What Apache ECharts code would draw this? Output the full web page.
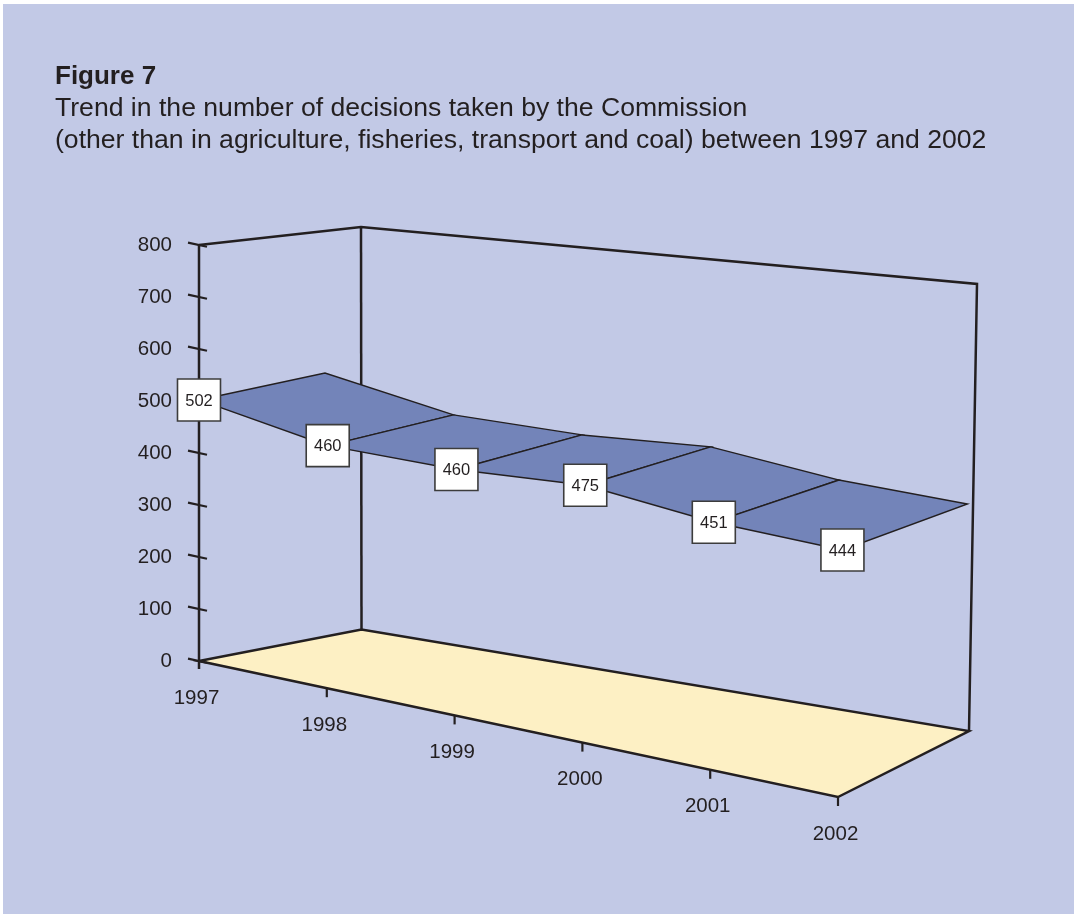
<!DOCTYPE html>
<html>
<head>
<meta charset="utf-8">
<title>Figure 7</title>
<script src="https://cdn.jsdelivr.net/npm/echarts/dist/echarts.min.js"></script>
<style>
  html, body { margin: 0; padding: 0; background: #ffffff; }
  #chart { width: 1077px; height: 917px; }
</style>
</head>
<body>
<div id="chart"></div>
<script>
// Decisions taken by the Commission per year
const years = ['1997', '1998', '1999', '2000', '2001', '2002'];
const decisions = [502, 460, 460, 475, 451, 444];
// Value axis range and step
const yMin = 0;
const yMax = 800;
const yStep = 100;

const FONT = '"Liberation Sans", Arial, Helvetica, sans-serif';
const INK = '#231f20';
const PANEL = '#c2c9e6';
const RIBBON = '#7384b9';
const FLOOR = '#fdf0c4';

// Screen corners of the 3-D box (front-left edge comes from the grid itself)
const FRONT_BOTTOM_RIGHT = [838, 797];
const FRONT_TOP_RIGHT = [846, 352];
const BACK_BOTTOM_LEFT = [361.5, 629.5];
const BACK_TOP_LEFT = [361, 227];
const BACK_BOTTOM_RIGHT = [969, 731];
const BACK_TOP_RIGHT = [977, 284];
// Offset of the ribbon's back edge at the first and last category
const RIBBON_DEPTH_START = [126, -27];
const RIBBON_DEPTH_END = [125, -46];

const last = years.length - 1;

function lerp(a, b, t) { return [a[0] + (b[0] - a[0]) * t, a[1] + (b[1] - a[1]) * t]; }

// Maps a (category, value) point of the flat grid plus a depth w (0 front, 1 back)
// into the perspective box.
function makeProjector(api) {
  const o = api.coord([0, yMin]);
  const r = api.coord([last, yMin]);
  const t = api.coord([0, yMax]);
  const FBL = [o[0], o[1]];
  const FTL = [o[0], t[1]];
  return function (cat, val, w) {
    const p = api.coord([cat, val]);
    const u = (p[0] - o[0]) / (r[0] - o[0]);
    const v = (o[1] - p[1]) / (o[1] - t[1]);
    const fb = lerp(FBL, FRONT_BOTTOM_RIGHT, u);
    const ft = lerp(FTL, FRONT_TOP_RIGHT, u);
    const bb = lerp(BACK_BOTTOM_LEFT, BACK_BOTTOM_RIGHT, u);
    const bt = lerp(BACK_TOP_LEFT, BACK_TOP_RIGHT, u);
    const f = lerp(fb, ft, v);
    const b = lerp(bb, bt, v);
    const out = lerp(f, b, w);
    out.u = u;
    return out;
  };
}

function ribbonBack(p) {
  const d = lerp(RIBBON_DEPTH_START, RIBBON_DEPTH_END, p.u);
  return [p[0] + d[0], p[1] + d[1]];
}

function line(a, b, width) {
  return {
    type: 'line',
    shape: { x1: a[0], y1: a[1], x2: b[0], y2: b[1] },
    style: { stroke: INK, lineWidth: width, lineCap: 'butt' }
  };
}

// Walls, floor, axis ticks and category labels
function renderFrame(params, api) {
  const P = makeProjector(api);
  const FBL = P(0, yMin, 0), FBR = P(last, yMin, 0);
  const BBL = P(0, yMin, 1), BBR = P(last, yMin, 1);
  const FTL = P(0, yMax, 0), BTL = P(0, yMax, 1), BTR = P(last, yMax, 1);
  const children = [];
  children.push({
    type: 'polygon',
    shape: { points: [FBL, BBL, BBR, FBR] },
    style: { fill: FLOOR, stroke: INK, lineWidth: 2.5, lineJoin: 'miter' }
  });
  children.push({
    type: 'polyline',
    shape: { points: [FTL, BTL, BTR, BBR] },
    style: { fill: null, stroke: INK, lineWidth: 2.5, lineJoin: 'miter' }
  });
  children.push(line(BTL, BBL, 2.5));
  // value axis line, running a little below the floor corner
  children.push(line([FBL[0], FBL[1] + 8], FTL, 2.5));
  // value ticks follow the front edge direction and cross the axis
  const ex = FBR[0] - FBL[0], ey = FBR[1] - FBL[1];
  const sl = ey / ex;
  for (let val = yMin; val <= yMax; val += yStep) {
    const p = P(0, val, 0);
    children.push(line([p[0] - 11, p[1] - 11 * sl], [p[0] + 8, p[1] + 8 * sl], 2.2));
  }
  // category ticks and labels
  years.forEach(function (yr, i) {
    const p = P(i, yMin, 0);
    if (i > 0) children.push(line(p, [p[0], p[1] + 9], 2.2));
    children.push({
      type: 'text',
      style: {
        text: yr, x: p[0] - 2.5, y: p[1] + 37,
        align: 'center', verticalAlign: 'middle',
        fill: INK, font: '20.5px ' + FONT
      }
    });
  });
  return { type: 'group', children: children };
}

// One ribbon panel between two consecutive years
function renderRibbon(params, api) {
  const P = makeProjector(api);
  const f0 = P(api.value(0), api.value(1), 0);
  const f1 = P(api.value(2), api.value(3), 0);
  const b0 = ribbonBack(f0);
  const b1 = ribbonBack(f1);
  return {
    type: 'polygon',
    shape: { points: [f0, f1, b1, b0] },
    style: { fill: RIBBON, stroke: INK, lineWidth: 1.4, lineJoin: 'miter' }
  };
}

// Boxed value label at each front point
function renderLabel(params, api) {
  const P = makeProjector(api);
  const p = P(api.value(0), api.value(1), 0);
  return {
    type: 'group',
    children: [
      {
        type: 'rect',
        shape: { x: p[0] - 21.5, y: p[1] - 21, width: 43, height: 42 },
        style: { fill: '#ffffff', stroke: '#3c3c3c', lineWidth: 1.6 }
      },
      {
        type: 'text',
        style: {
          text: String(api.value(1)), x: p[0], y: p[1] + 1,
          align: 'center', verticalAlign: 'middle',
          fill: INK, font: '16.5px ' + FONT
        }
      }
    ]
  };
}

const ribbonData = decisions.slice(0, -1).map(function (v, i) {
  return [i, v, i + 1, decisions[i + 1]];
});
const labelData = decisions.map(function (v, i) { return [i, v]; });

const chart = echarts.init(document.getElementById('chart'), null, { renderer: 'canvas' });
chart.setOption({
  animation: false,
  backgroundColor: '#ffffff',
  graphic: [{
    type: 'rect', z: -10, silent: true,
    shape: { x: 3, y: 4, width: 1071, height: 910 },
    style: { fill: PANEL }
  }],
  title: [
    {
      text: 'Figure 7', left: 55, top: 62, padding: 0,
      textStyle: { fontFamily: FONT, fontSize: 26, fontWeight: 'bold', color: INK, lineHeight: 30 }
    },
    {
      text: 'Trend in the number of decisions taken by the Commission\n(other than in agriculture, fisheries, transport and coal) between 1997 and 2002',
      left: 55, top: 93, padding: 0,
      textStyle: { fontFamily: FONT, fontSize: 26.6, fontWeight: 'normal', color: INK, lineHeight: 32 }
    }
  ],
  grid: { left: 199, top: 245, width: 639, height: 416, containLabel: false },
  xAxis: {
    type: 'category', data: years, boundaryGap: false, show: false
  },
  yAxis: {
    type: 'value', min: yMin, max: yMax, interval: yStep,
    axisLine: { show: false }, axisTick: { show: false }, splitLine: { show: false },
    axisLabel: { margin: 27, color: INK, fontFamily: FONT, fontSize: 20.5 }
  },
  series: [
    { type: 'custom', name: 'frame', z: 1, data: [[0, 0]], renderItem: renderFrame, silent: true },
    { type: 'custom', name: 'Decisions', z: 2, data: ribbonData, renderItem: renderRibbon, silent: true },
    { type: 'custom', name: 'labels', z: 3, data: labelData, renderItem: renderLabel, silent: true }
  ]
});
</script>
</body>
</html>
